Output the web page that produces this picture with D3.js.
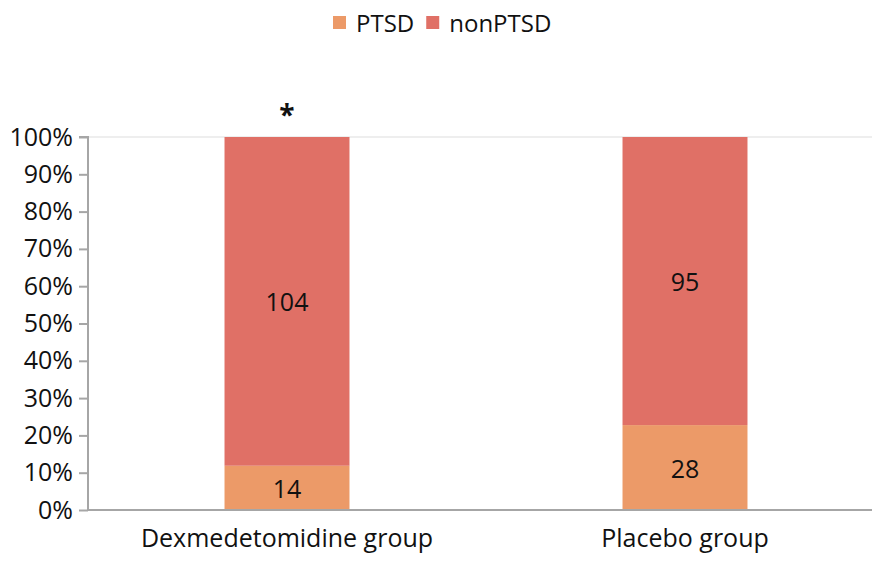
<!DOCTYPE html>
<html><head><meta charset="utf-8">
<script src="https://cdn.jsdelivr.net/npm/d3@7"></script>
<style>body{margin:0;background:#fff}svg{font-family:"Open Sans","Noto Sans",sans-serif}</style>
</head><body><svg id="c" width="872" height="561"></svg>
<script>
const categories = ["Dexmedetomidine group", "Placebo group"];
const seriesNames = ["PTSD", "nonPTSD"];
const ptsd = [14, 28];
const nonPtsd = [104, 95];
const colors = ["#EC9A68", "#E07066"];
const yTicks = [0,0.1,0.2,0.3,0.4,0.5,0.6,0.7,0.8,0.9,1.0];
const sigMarks = ["*", ""];

const svg = d3.select("#c");
const m = {l:88, r:-12, t:137, b:51};
const W = 872, H = 561;
const x = d3.scaleBand().domain(categories).range([m.l, W - m.r]).paddingInner(0.686).paddingOuter(0.343);
const y = d3.scaleLinear().domain([0,1]).range([H - m.b, m.t]);

const rows = categories.map((c,i)=>({cat:c, PTSD:ptsd[i]/(ptsd[i]+nonPtsd[i]), nonPTSD:nonPtsd[i]/(ptsd[i]+nonPtsd[i]), raw:{PTSD:ptsd[i], nonPTSD:nonPtsd[i]}}));
const stack = d3.stack().keys(seriesNames)(rows);

svg.append("line").attr("x1", m.l).attr("x2", W).attr("y1", y(1)).attr("y2", y(1))
  .attr("stroke", "#eeeeee").attr("stroke-width", 2);

stack.forEach((s,si)=>{
  const g = svg.append("g");
  g.selectAll("rect").data(s).join("rect")
    .attr("x", d=>x(d.data.cat)).attr("width", x.bandwidth())
    .attr("y", d=>y(d[1])).attr("height", d=>y(d[0])-y(d[1]))
    .attr("fill", colors[si]);
  g.selectAll("text").data(s).join("text")
    .attr("x", d=>x(d.data.cat)+x.bandwidth()/2)
    .attr("y", d=>(y(d[0])+y(d[1]))/2)
    .attr("text-anchor","middle").attr("dominant-baseline","central")
    .attr("font-size", 25).attr("fill","#111")
    .text(d=>d.data.raw[s.key]);
});

const ya = svg.append("g").attr("transform",`translate(${m.l},0)`)
  .call(d3.axisLeft(y).tickValues(yTicks).tickFormat(d3.format(".0%")).tickSize(9).tickPadding(6));
ya.select(".domain").attr("stroke","#a6a6a6").attr("stroke-width",2).attr("d",`M-9,${y(1)}H0V${y(0)}`);
ya.selectAll(".tick line").attr("stroke","#a6a6a6").attr("stroke-width",2);
ya.selectAll(".tick text").attr("font-size",25).attr("fill","#111").attr("font-family","'Open Sans','Noto Sans',sans-serif");

const xa = svg.append("g").attr("transform",`translate(0,${y(0)})`)
  .call(d3.axisBottom(x).tickSize(0).tickPadding(19));
xa.select(".domain").attr("stroke","#a6a6a6").attr("stroke-width",2).attr("d",`M${m.l},0H${W}`);
xa.selectAll(".tick text").attr("font-size",25).attr("fill","#111").attr("font-family","'Open Sans','Noto Sans',sans-serif");

svg.append("g").selectAll("text").data(categories).join("text")
  .attr("x", d=>x(d)+x.bandwidth()/2).attr("y", y(1)-12)
  .attr("text-anchor","middle").attr("font-size",28).attr("font-weight","bold").attr("fill","#111")
  .text((d,i)=>sigMarks[i]);

const leg = svg.append("g").attr("transform","translate(333,22)");
let lx = 0;
seriesNames.forEach((n,i)=>{
  leg.append("rect").attr("x", lx).attr("y",-6).attr("width",13).attr("height",13).attr("fill",colors[i]);
  const t = leg.append("text").attr("x", lx+23).attr("y",0).attr("dominant-baseline","central")
    .attr("font-size",24).attr("fill","#111").text(n);
  lx += 23 + t.node().getComputedTextLength() + 12;
});
</script></body></html>
